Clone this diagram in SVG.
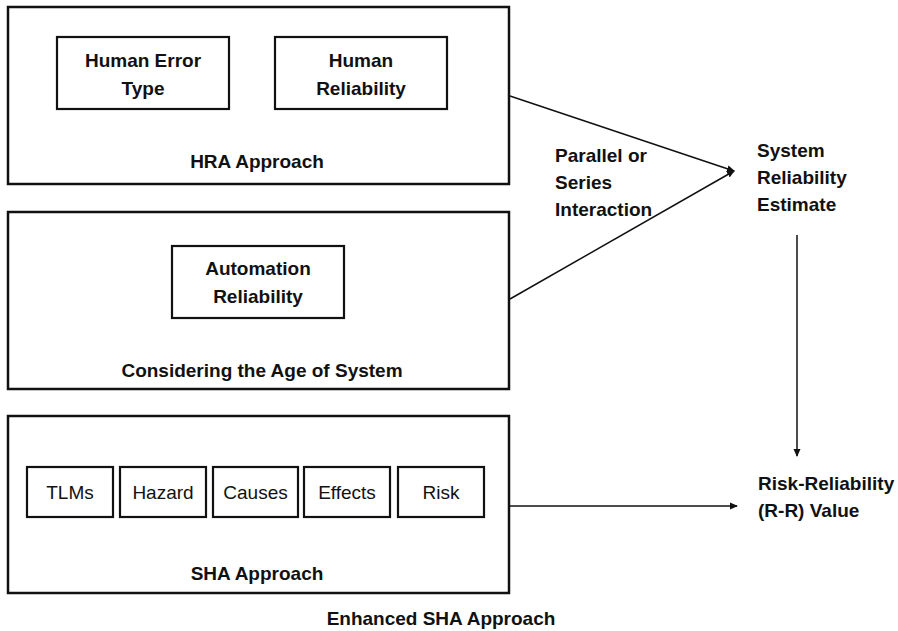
<svg xmlns="http://www.w3.org/2000/svg" width="898" height="631" viewBox="0 0 898 631">
<style>
.outer{fill:#fff;stroke:#111;stroke-width:2.5}
.inner{fill:#fff;stroke:#111;stroke-width:2.2}
.b{font-family:"Liberation Sans",Arial,sans-serif;font-weight:bold;font-size:19px;fill:#111}
.n{font-family:"Liberation Sans",Arial,sans-serif;font-size:19px;fill:#111}
.c{text-anchor:middle}
.ln{stroke:#111;stroke-width:1.5;fill:none}
</style>
<defs>
<marker id="ah" markerWidth="8" markerHeight="8" refX="7" refY="4" orient="auto" markerUnits="userSpaceOnUse">
<path d="M0,0.5 L8,4 L0,7.5 Z" fill="#111"/>
</marker>
</defs>
<rect width="898" height="631" fill="#fff"/>
<g id="hra">
<rect class="outer" x="8" y="7" width="501" height="177"/>
<text class="b c" x="257" y="168">HRA Approach</text>
</g>
<g id="human-error-type">
<rect class="inner" x="57" y="37" width="172" height="72"/>
<text class="b c" x="143" y="67">Human Error</text>
<text class="b c" x="143" y="95">Type</text>
</g>
<g id="human-reliability">
<rect class="inner" x="275" y="37" width="172" height="72"/>
<text class="b c" x="361" y="67">Human</text>
<text class="b c" x="361" y="95">Reliability</text>
</g>
<g id="age">
<rect class="outer" x="8" y="212" width="501" height="177"/>
<text class="b c" x="262" y="377">Considering the Age of System</text>
</g>
<g id="automation-reliability">
<rect class="inner" x="172" y="246" width="172" height="72"/>
<text class="b c" x="258" y="275">Automation</text>
<text class="b c" x="258" y="303">Reliability</text>
</g>
<g id="sha">
<rect class="outer" x="8" y="416" width="501" height="177"/>
<text class="b c" x="257" y="580">SHA Approach</text>
</g>
<g id="tlms"><rect class="inner" x="27" y="467" width="86" height="50"/><text class="n c" x="70" y="499">TLMs</text></g>
<g id="hazard"><rect class="inner" x="120" y="467" width="86" height="50"/><text class="n c" x="163" y="499">Hazard</text></g>
<g id="causes"><rect class="inner" x="213" y="467" width="85" height="50"/><text class="n c" x="255.5" y="499">Causes</text></g>
<g id="effects"><rect class="inner" x="304" y="467" width="86" height="50"/><text class="n c" x="347" y="499">Effects</text></g>
<g id="risk"><rect class="inner" x="398" y="467" width="86" height="50"/><text class="n c" x="441" y="499">Risk</text></g>
<g id="enhanced-sha-label"><text class="b c" x="441" y="625">Enhanced SHA Approach</text></g>
<g id="interaction-label">
<text class="b" x="555" y="162">Parallel or</text>
<text class="b" x="555" y="189">Series</text>
<text class="b" x="555" y="216">Interaction</text>
</g>
<g id="system-reliability">
<text class="b" x="757" y="157">System</text>
<text class="b" x="757" y="184">Reliability</text>
<text class="b" x="757" y="211">Estimate</text>
</g>
<g id="rr-value">
<text class="b" x="758" y="490">Risk-Reliability</text>
<text class="b" x="758" y="517">(R-R) Value</text>
</g>
<g id="connectors">
<line class="ln" x1="510" y1="96" x2="734" y2="171" marker-end="url(#ah)"/>
<line class="ln" x1="510" y1="299" x2="734" y2="171" marker-end="url(#ah)"/>
<line class="ln" x1="797" y1="235" x2="797" y2="456" marker-end="url(#ah)"/>
<line class="ln" x1="509" y1="506" x2="737" y2="506" marker-end="url(#ah)"/>
</g>
</svg>
